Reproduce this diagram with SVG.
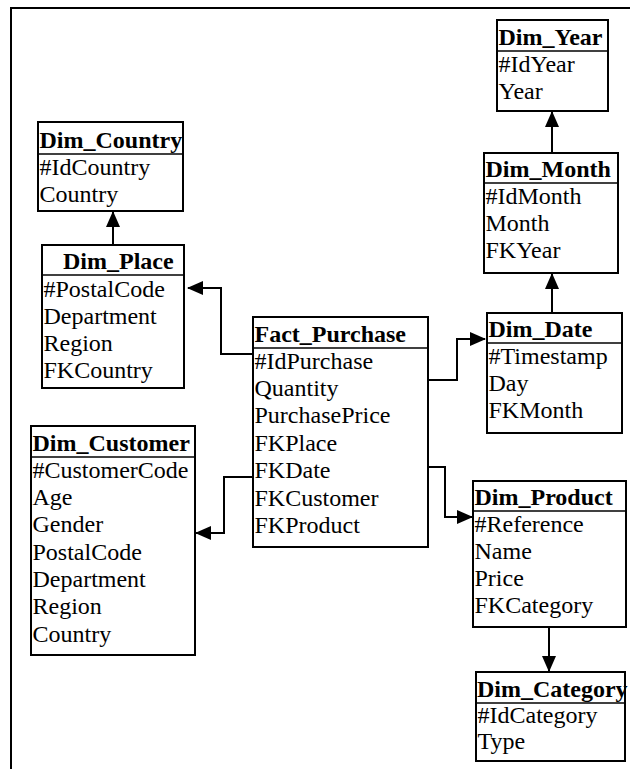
<svg xmlns="http://www.w3.org/2000/svg" width="630" height="769" viewBox="0 0 630 769">
<style>
.box{fill:#fff;stroke:#000;stroke-width:2}
.sep{stroke:#000;stroke-width:1.5}
.t{font-family:"Liberation Serif","Times New Roman",serif;font-size:24px;fill:#000;font-weight:bold}
.r{font-family:"Liberation Serif","Times New Roman",serif;font-size:24px;fill:#000}
.c{fill:none;stroke:#000;stroke-width:2}
</style>
<defs>
<marker id="ah" markerUnits="userSpaceOnUse" markerWidth="16" markerHeight="14" refX="15" refY="7" orient="auto">
<path d="M0,0 L16,7 L0,14 z" fill="#000"/>
</marker>
</defs>
<rect width="630" height="769" fill="#fff"/>
<path d="M11,769 L11,8 L630,8" fill="none" stroke="#000" stroke-width="2"/>

<g id="connectors">
<path class="c" d="M113,245 L113,212" marker-end="url(#ah)"/>
<path class="c" d="M253,354 L221,354 L221,288 L188,288" marker-end="url(#ah)"/>
<path class="c" d="M428,380 L457,380 L457,339 L485,339" marker-end="url(#ah)"/>
<path class="c" d="M428,467 L445,467 L445,517 L472,517" marker-end="url(#ah)"/>
<path class="c" d="M253,477 L224,477 L224,533 L196,533" marker-end="url(#ah)"/>
<path class="c" d="M552,313 L552,274" marker-end="url(#ah)"/>
<path class="c" d="M552,153 L552,112" marker-end="url(#ah)"/>
<path class="c" d="M549,627 L549,671" marker-end="url(#ah)"/>
</g>

<g id="Dim_Year">
<rect class="box" x="497" y="20" width="111" height="91"/>
<line class="sep" x1="497" y1="51" x2="608" y2="51"/>
<text class="t" x="498.5" y="45">Dim_Year</text>
<text class="r" x="498.5" y="72">#IdYear</text>
<text class="r" x="498.5" y="99">Year</text>
</g>

<g id="Dim_Country">
<rect class="box" x="38" y="122" width="145" height="89"/>
<line class="sep" x1="38" y1="154" x2="183" y2="154"/>
<text class="t" x="39.5" y="148">Dim_Country</text>
<text class="r" x="39.5" y="175">#IdCountry</text>
<text class="r" x="39.5" y="202">Country</text>
</g>

<g id="Dim_Month">
<rect class="box" x="484" y="153" width="134" height="120"/>
<line class="sep" x1="484" y1="183" x2="618" y2="183"/>
<text class="t" x="485.5" y="177">Dim_Month</text>
<text class="r" x="485.5" y="204">#IdMonth</text>
<text class="r" x="485.5" y="231">Month</text>
<text class="r" x="485.5" y="258">FKYear</text>
</g>

<g id="Dim_Place">
<rect class="box" x="42" y="245" width="142" height="143"/>
<line class="sep" x1="42" y1="275" x2="184" y2="275"/>
<text class="t" x="63" y="269">Dim_Place</text>
<text class="r" x="43.5" y="297">#PostalCode</text>
<text class="r" x="43.5" y="324">Department</text>
<text class="r" x="43.5" y="351">Region</text>
<text class="r" x="43.5" y="378">FKCountry</text>
</g>

<g id="Dim_Date">
<rect class="box" x="487" y="313" width="135" height="120"/>
<line class="sep" x1="487" y1="343" x2="622" y2="343"/>
<text class="t" x="488.5" y="337">Dim_Date</text>
<text class="r" x="488.5" y="364">#Timestamp</text>
<text class="r" x="488.5" y="391">Day</text>
<text class="r" x="488.5" y="418">FKMonth</text>
</g>

<g id="Fact_Purchase">
<rect class="box" x="253" y="317" width="175" height="230"/>
<line class="sep" x1="253" y1="348" x2="428" y2="348"/>
<text class="t" x="254.5" y="342">Fact_Purchase</text>
<text class="r" x="254.5" y="369">#IdPurchase</text>
<text class="r" x="254.5" y="396">Quantity</text>
<text class="r" x="254.5" y="423">PurchasePrice</text>
<text class="r" x="254.5" y="451">FKPlace</text>
<text class="r" x="254.5" y="478">FKDate</text>
<text class="r" x="254.5" y="506">FKCustomer</text>
<text class="r" x="254.5" y="533">FKProduct</text>
</g>

<g id="Dim_Customer">
<rect class="box" x="31" y="426" width="164" height="229"/>
<line class="sep" x1="31" y1="457" x2="195" y2="457"/>
<text class="t" x="32.5" y="451">Dim_Customer</text>
<text class="r" x="32.5" y="478">#CustomerCode</text>
<text class="r" x="32.5" y="505">Age</text>
<text class="r" x="32.5" y="532">Gender</text>
<text class="r" x="32.5" y="560">PostalCode</text>
<text class="r" x="32.5" y="587">Department</text>
<text class="r" x="32.5" y="614">Region</text>
<text class="r" x="32.5" y="642">Country</text>
</g>

<g id="Dim_Product">
<rect class="box" x="473" y="481" width="153" height="146"/>
<line class="sep" x1="473" y1="511" x2="626" y2="511"/>
<text class="t" x="474.5" y="505">Dim_Product</text>
<text class="r" x="474.5" y="532">#Reference</text>
<text class="r" x="474.5" y="559">Name</text>
<text class="r" x="474.5" y="586">Price</text>
<text class="r" x="474.5" y="613">FKCategory</text>
</g>

<g id="Dim_Category">
<rect class="box" x="476" y="672" width="149" height="89"/>
<line class="sep" x1="476" y1="703" x2="625" y2="703"/>
<text class="t" x="477" y="697">Dim_Category</text>
<text class="r" x="477.5" y="723">#IdCategory</text>
<text class="r" x="477.5" y="749">Type</text>
</g>
</svg>
